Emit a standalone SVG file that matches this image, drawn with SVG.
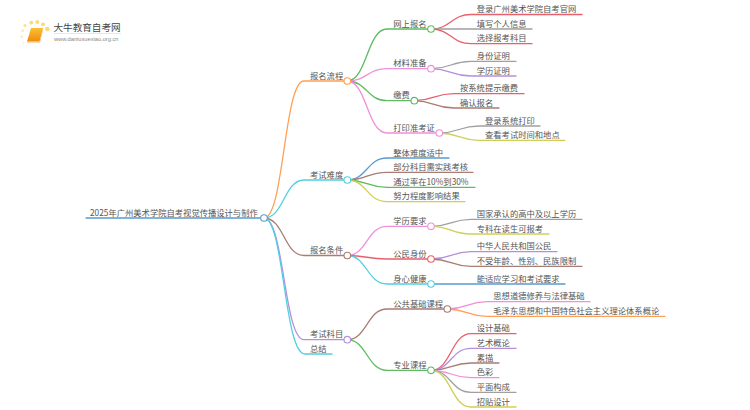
<svg xmlns="http://www.w3.org/2000/svg" width="750" height="410" viewBox="0 0 750 410">
<style>
text{font-family:"Noto Sans CJK SC","Liberation Sans",sans-serif;font-size:8.3px;fill:#555}
#connectors path{fill:none;stroke-width:1.3;stroke-linecap:round}
circle{fill:#fff;stroke-width:1.1}
.or{stroke:#ff9f55}.bl{stroke:#5b9bd0}.cy{stroke:#4fd0e0}.br{stroke:#a97c74}.pu{stroke:#b48fdc}.gr{stroke:#5fbb5f}.pk{stroke:#f090d8}.rd{stroke:#e8606a}.gy{stroke:#a0a0a0}.ye{stroke:#cfcf55}
</style>
<defs><linearGradient id="book" x1="0" y1="0" x2="0" y2="1"><stop offset="0" stop-color="#fcc02e"/><stop offset="1" stop-color="#f08a10"/></linearGradient></defs>
<g id="logo">
<g fill="#fde08e"><circle style="fill:#fde08e;stroke:none" cx="25" cy="25.500" r="1.600"/><circle style="fill:#fdd77a;stroke:none" cx="31.300" cy="22.700" r="1.900"/><circle style="fill:#fdd77a;stroke:none" cx="37.300" cy="22" r="1.900"/><circle style="fill:#fdd77a;stroke:none" cx="43" cy="24.300" r="1.900"/><circle style="fill:#fdd77a;stroke:none" cx="47.300" cy="29" r="2.200"/><circle style="fill:#fde9b4;stroke:none" cx="22.700" cy="30.700" r="1.400"/><circle style="fill:#fde9b4;stroke:none" cx="21.700" cy="36.700" r="1.200"/><circle style="fill:#fdeecb;stroke:none" cx="23.500" cy="42.700" r="1"/></g>
<path d="M31 28H43L39.500 41.500H27Z" fill="url(#book)"/>
<path d="M27 41.500H39.500L43 28V30L40 42.500H28Q26.500 42.500 27 41.500Z" fill="#f7b36a"/>
<text x="53.500" y="30.500" style="font-size:9.600px;fill:#444">大牛教育自考网</text>
<rect x="54" y="33" width="67" height="0.700" fill="#ddd"/>
<text x="54" y="40.700" style="font-size:5.700px;fill:#888;font-family:'Liberation Sans',sans-serif">www.daniuxuexiao.org.cn</text>
</g>
<g id="connectors">
<path class="bl" d="M86 218H264"/>
<path class="or" d="M264 218C284 218 284 81 304 81H347"/>
<path class="cy" d="M264 218C284 218 284 180 304 180H347"/>
<path class="br" d="M264 218C284 218 284 255.500 304 255.500H347"/>
<path class="pu" d="M264 218C284 218 284 339.700 304 339.700H347"/>
<path class="cy" d="M264 218C284 218 284 354 305 354H332"/>
<path class="gr" d="M347 81C367 81 367 29 387 29H431"/>
<path class="pk" d="M347 81C367 81 367 68.700 387 68.700H431"/>
<path class="gr" d="M347 81C367 81 367 100.700 387 100.700H414"/>
<path class="pk" d="M347 81C367 81 367 133 387 133H439"/>
<path class="rd" d="M431 29C451 29 451 14.500 471 14.500H582"/>
<path class="gy" d="M431 29H532"/>
<path class="rd" d="M431 29C451 29 451 43.700 471 43.700H532"/>
<path class="gy" d="M431 68.700C451 68.700 451 61.300 471 61.300H516"/>
<path class="pu" d="M431 68.700C451 68.700 451 76 471 76H516"/>
<path class="rd" d="M414 100.700C434 100.700 434 93.700 454 93.700H524"/>
<path class="br" d="M414 100.700C434 100.700 434 108 454 108H499"/>
<path class="gy" d="M439 133C459 133 459 126 479 126H540"/>
<path class="ye" d="M439 133C459 133 459 140.300 479 140.300H565"/>
<path class="bl" d="M347 180C367 180 367 158 387 158H449"/>
<path class="br" d="M347 180C367 180 367 172.300 387 172.300H473"/>
<path class="gr" d="M347 180C367 180 367 187.300 387 187.300H475"/>
<path class="ye" d="M347 180C367 180 367 201.700 387 201.700H465"/>
<path class="pk" d="M347 255.500C367 255.500 367 226.300 387 226.300H431"/>
<path class="rd" d="M347 255.500C367 255.500 367 259 387 259H431"/>
<path class="cy" d="M347 255.500C367 255.500 367 284 387 284H431"/>
<path class="gy" d="M431 226.300C451 226.300 451 219.300 471 219.300H582"/>
<path class="ye" d="M431 226.300C451 226.300 451 234 471 234H549"/>
<path class="pu" d="M431 259C451 259 451 251.700 471 251.700H557"/>
<path class="br" d="M431 259C451 259 451 266.300 471 266.300H582"/>
<path class="bl" d="M431 284H565"/>
<path class="br" d="M347 339.700C367 339.700 367 309 387 309H447"/>
<path class="gr" d="M347 339.700C367 339.700 367 370.300 387 370.300H431"/>
<path class="pk" d="M447 309C467 309 467 301.700 487 301.700H590"/>
<path class="or" d="M447 309C467 309 467 316.300 487 316.300H665"/>
<path class="rd" d="M431 370.300C451 370.300 451 333.700 471 333.700H516"/>
<path class="pu" d="M431 370.300C451 370.300 451 348.300 471 348.300H516"/>
<path class="br" d="M431 370.300C451 370.300 451 363 471 363H499"/>
<path class="pk" d="M431 370.300C451 370.300 451 377.700 471 377.700H499"/>
<path class="gy" d="M431 370.300C451 370.300 451 392.300 471 392.300H516"/>
<path class="ye" d="M431 370.300C451 370.300 451 407 471 407H516"/>
</g>
<g id="root"><circle class="bl" cx="264" cy="218" r="3.300"/><text x="90" y="215.500">2025年广州美术学院自考视觉传播设计与制作</text></g>
<g id="n1"><circle class="or" cx="347.300" cy="81" r="3.300"/><text x="310" y="78.500">报名流程</text></g>
<g id="n2"><circle class="cy" cx="347.300" cy="180" r="3.300"/><text x="310" y="177.500">考试难度</text></g>
<g id="n3"><circle class="br" cx="347.300" cy="255.500" r="3.300"/><text x="310" y="253">报名条件</text></g>
<g id="n4"><circle class="pu" cx="347.300" cy="339.700" r="3.300"/><text x="310" y="337.200">考试科目</text></g>
<g id="n5"><text x="310" y="351.500">总结</text></g>
<g id="n11"><circle class="gr" cx="431" cy="29" r="3.300"/><text x="393.300" y="26.500">网上报名</text></g>
<g id="n12"><circle class="pk" cx="431" cy="68.700" r="3.300"/><text x="393.300" y="66.200">材料准备</text></g>
<g id="n13"><circle class="gr" cx="414.300" cy="100.700" r="3.300"/><text x="393.300" y="98.200">缴费</text></g>
<g id="n14"><circle class="pk" cx="439.300" cy="133" r="3.300"/><text x="393.300" y="130.500">打印准考证</text></g>
<g id="n31"><circle class="pk" cx="431" cy="226.300" r="3.300"/><text x="393.300" y="223.800">学历要求</text></g>
<g id="n32"><circle class="rd" cx="431" cy="259" r="3.300"/><text x="393.300" y="256.500">公民身份</text></g>
<g id="n33"><circle class="cy" cx="431" cy="284" r="3.300"/><text x="393.300" y="281.500">身心健康</text></g>
<g id="n41"><circle class="br" cx="447.300" cy="309" r="3.300"/><text x="393.300" y="306.500">公共基础课程</text></g>
<g id="n42"><circle class="gr" cx="431" cy="370.300" r="3.300"/><text x="393.300" y="367.800">专业课程</text></g>
<g id="leaves">
<text x="393.300" y="155.500">整体难度适中</text>
<text x="393.300" y="169.800">部分科目需实践考核</text>
<text x="393.300" y="184.800">通过率在10%到30%</text>
<text x="393.300" y="199.200">努力程度影响结果</text>
<text x="476.700" y="12">登录广州美术学院自考官网</text>
<text x="476.700" y="26.500">填写个人信息</text>
<text x="476.700" y="41.200">选择报考科目</text>
<text x="476.700" y="58.800">身份证明</text>
<text x="476.700" y="73.500">学历证明</text>
<text x="460" y="91.200">按系统提示缴费</text>
<text x="460" y="105.500">确认报名</text>
<text x="485" y="123.500">登录系统打印</text>
<text x="485" y="137.800">查看考试时间和地点</text>
<text x="476.700" y="216.800">国家承认的高中及以上学历</text>
<text x="476.700" y="231.500">专科在读生可报考</text>
<text x="476.700" y="249.200">中华人民共和国公民</text>
<text x="476.700" y="263.800">不受年龄、性别、民族限制</text>
<text x="476.700" y="281.500">能适应学习和考试要求</text>
<text x="493.300" y="299.200">思想道德修养与法律基础</text>
<text x="493.300" y="313.800">毛泽东思想和中国特色社会主义理论体系概论</text>
<text x="476.700" y="331.200">设计基础</text>
<text x="476.700" y="345.800">艺术概论</text>
<text x="476.700" y="360.500">素描</text>
<text x="476.700" y="375.200">色彩</text>
<text x="476.700" y="389.800">平面构成</text>
<text x="476.700" y="404.500">招贴设计</text>
</g>
</svg>
